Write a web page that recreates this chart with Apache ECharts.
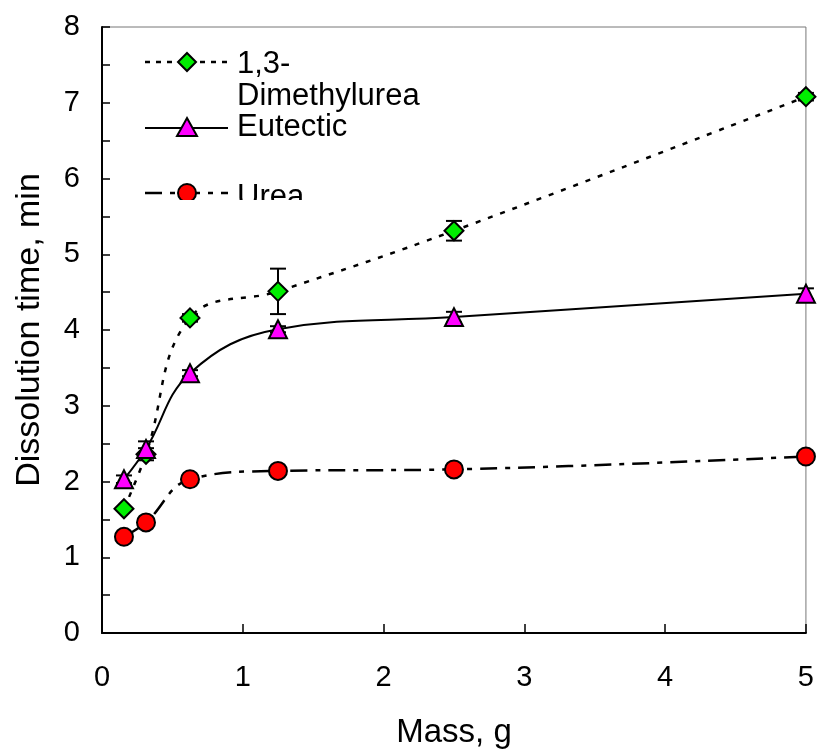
<!DOCTYPE html>
<html>
<head>
<meta charset="utf-8">
<script src="https://cdn.jsdelivr.net/npm/echarts@6/dist/echarts.min.js"></script>
<style>
  html, body { margin: 0; padding: 0; background: #fff; }
  #main { width: 817px; height: 754px; }
</style>
</head>
<body>
<div id="main"></div>
<script>
// data
var mass = [0.156, 0.3125, 0.625, 1.25, 2.5, 5];
var dmu = [1.64, 2.36, 4.16, 4.51, 5.31, 7.08];
var dmuErr = [0, 0.08, 0.05, 0.3, 0.13, 0.05];
var eutectic = [2.03, 2.43, 3.43, 4.01, 4.17, 4.48];
var eutecticErr = [0.05, 0.1, 0.04, 0.04, 0.07, 0.07];
var urea = [1.27, 1.46, 2.03, 2.14, 2.16, 2.33];
var ureaErr = [0, 0, 0, 0, 0, 0];
var xTicks = [0, 1, 2, 3, 4, 5];
var yTicks = [0, 1, 2, 3, 4, 5, 6, 7, 8];

var FONT = "'Liberation Sans', Arial, sans-serif";

function pairs(ys) {
    return mass.map(function (m, i) { return [m, ys[i]]; });
}
function errPoints() {
    var out = [];
    [[dmu, dmuErr], [eutectic, eutecticErr], [urea, ureaErr]].forEach(function (s) {
        mass.forEach(function (m, i) {
            if (s[1][i] > 0) out.push([m, s[0][i], s[1][i]]);
        });
    });
    return out;
}

var myChart = echarts.init(document.getElementById('main'));

var option = {
    animation: false,
    grid: {
        left: 102, right: 9, top: 27, bottom: 117,
        show: true, borderColor: '#777', borderWidth: 1
    },
    xAxis: {
        type: 'value',
        min: xTicks[0], max: xTicks[xTicks.length - 1], interval: 1,
        name: 'Mass, g',
        nameLocation: 'middle',
        nameGap: 83,
        nameTextStyle: { fontFamily: FONT, fontSize: 33, color: '#000' },
        axisLine: { show: true, lineStyle: { color: '#000', width: 2 } },
        axisTick: { show: true, inside: true, length: 9, lineStyle: { color: '#000', width: 1.5 } },
        axisLabel: { fontFamily: FONT, fontSize: 29, color: '#000', margin: 30 },
        splitLine: { show: false }
    },
    yAxis: {
        type: 'value',
        min: yTicks[0], max: yTicks[yTicks.length - 1], interval: 1,
        name: 'Dissolution time, min',
        nameLocation: 'middle',
        nameGap: 55,
        nameTextStyle: { fontFamily: FONT, fontSize: 34, color: '#000' },
        axisLine: { show: true, lineStyle: { color: '#000', width: 2 } },
        axisTick: { show: true, inside: true, length: 8, lineStyle: { color: '#000', width: 1.5 } },
        minorTick: { show: true, splitNumber: 2, length: 8, lineStyle: { color: '#000', width: 1.5 } },
        axisLabel: { fontFamily: FONT, fontSize: 29, color: '#000', margin: 22 },
        splitLine: { show: false }
    },
    series: [
        {
            name: 'error bars',
            type: 'custom',
            z: 1,
            data: errPoints(),
            renderItem: function (params, api) {
                var x = api.value(0), y = api.value(1), e = api.value(2);
                var hi = api.coord([x, y + e]);
                var lo = api.coord([x, y - e]);
                var w = 8;
                var st = { stroke: '#000', lineWidth: 2 };
                return {
                    type: 'group',
                    children: [
                        { type: 'line', shape: { x1: hi[0], y1: hi[1], x2: lo[0], y2: lo[1] }, style: st },
                        { type: 'line', shape: { x1: hi[0] - w, y1: hi[1], x2: hi[0] + w, y2: hi[1] }, style: st },
                        { type: 'line', shape: { x1: lo[0] - w, y1: lo[1], x2: lo[0] + w, y2: lo[1] }, style: st }
                    ]
                };
            }
        },
        {
            name: '1,3-Dimethylurea',
            type: 'line',
            smooth: 0.4,
            data: pairs(dmu),
            symbol: 'diamond',
            symbolSize: 19,
            lineStyle: { color: '#000', width: 2.5, type: [5, 8] },
            itemStyle: { color: '#00ee00', borderColor: '#000', borderWidth: 2 }
        },
        {
            name: 'Eutectic',
            type: 'line',
            smooth: 0.4,
            data: pairs(eutectic),
            symbol: 'triangle',
            symbolSize: 18,
            lineStyle: { color: '#000', width: 2 },
            itemStyle: { color: '#ff00ff', borderColor: '#000', borderWidth: 2 }
        },
        {
            name: 'Urea',
            type: 'line',
            smooth: 0.4,
            data: pairs(urea),
            symbol: 'circle',
            symbolSize: 18,
            lineStyle: { color: '#000', width: 2.5, type: [17, 8, 5, 8] },
            itemStyle: { color: '#ff0000', borderColor: '#000', borderWidth: 2 }
        }
    ],
    // legend drawn by hand to copy the Excel look (wrapped first label, clipped last row)
    graphic: [
        { type: 'line', shape: { x1: 145, y1: 62, x2: 228, y2: 62 }, style: { stroke: '#000', lineWidth: 2.5, lineDash: [5, 6] } },
        { type: 'polygon', shape: { points: [[187, 53], [196, 62], [187, 71], [178, 62]] }, style: { fill: '#00ee00', stroke: '#000', lineWidth: 2 } },
        { type: 'text', left: 237, top: 49, style: { text: '1,3-', font: '31px ' + FONT, fill: '#000' } },
        { type: 'text', left: 237, top: 81, style: { text: 'Dimethylurea', font: '31px ' + FONT, fill: '#000' } },

        { type: 'line', shape: { x1: 145, y1: 128, x2: 228, y2: 128 }, style: { stroke: '#000', lineWidth: 2 } },
        { type: 'polygon', shape: { points: [[187, 118], [197, 136], [177, 136]] }, style: { fill: '#ff00ff', stroke: '#000', lineWidth: 2 } },
        { type: 'text', left: 237, top: 112, style: { text: 'Eutectic', font: '31px ' + FONT, fill: '#000' } },

        { type: 'line', shape: { x1: 145, y1: 193, x2: 228, y2: 193 }, style: { stroke: '#000', lineWidth: 2.5, lineDash: [17, 8, 5, 8] } },
        { type: 'circle', shape: { cx: 187, cy: 193, r: 9 }, style: { fill: '#ff0000', stroke: '#000', lineWidth: 2 } },
        { type: 'text', left: 237, top: 182, style: { text: 'Urea', font: '31px ' + FONT, fill: '#000' } },
        { type: 'rect', z: 100, shape: { x: 130, y: 200, width: 300, height: 22 }, style: { fill: '#fff' } }
    ]
};

myChart.setOption(option);

window.onresize = function () {
    myChart.resize();
};
</script>
</body>
</html>
